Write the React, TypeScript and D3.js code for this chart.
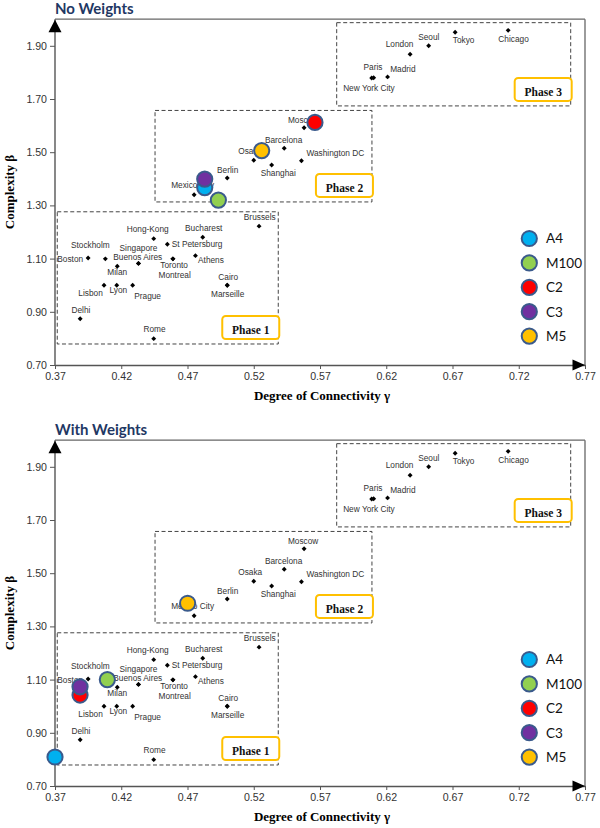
import React, { useEffect, useRef } from "react";
import * as d3 from "d3";

// city positions (degree of connectivity gamma, complexity beta)
const cityNames = [
  "Boston", "Stockholm", "Milan", "Singapore", "Buenos Aires", "Toronto", "Montreal",
  "Athens", "Hong-Kong", "St Petersburg", "Bucharest", "Brussels", "Lisbon", "Lyon",
  "Prague", "Cairo", "Marseille", "Delhi", "Rome",
  "Moscow", "Barcelona", "Osaka", "Shanghai", "Washington DC", "Berlin", "Mexico City",
  "Tokyo", "Chicago", "Seoul", "London", "Madrid", "Paris", "New York City",
];
const cityGamma = [
  0.395, 0.408, 0.417, 0.433, 0.433, 0.459, 0.459,
  0.476, 0.4445, 0.4548, 0.4815, 0.524, 0.407, 0.4166,
  0.4286, 0.5, 0.5, 0.389, 0.4445,
  0.558, 0.543, 0.52, 0.5335, 0.556, 0.5, 0.475,
  0.672, 0.712, 0.652, 0.638, 0.621, 0.609, 0.6105,
];
const cityBeta = [
  1.102, 1.099, 1.071, 1.082, 1.082, 1.099, 1.099,
  1.111, 1.175, 1.154, 1.18, 1.222, 1.0, 1.0,
  1.0, 1.0, 1.0, 0.874, 0.799,
  1.592, 1.515, 1.47, 1.452, 1.468, 1.403, 1.34,
  1.951, 1.958, 1.9, 1.868, 1.783, 1.779, 1.78,
];

// method markers
const methodNames = ["A4", "M100", "C2", "C3", "M5"];
const methodColors = ["#00B0F0", "#92D050", "#FF0000", "#7030A0", "#FFC000"];
const noWeightsGamma = [0.483, 0.4933, 0.5662, 0.483, 0.526];
const noWeightsBeta = [1.367, 1.32, 1.612, 1.399, 1.506];
const withWeightsGamma = [0.37, 0.4095, 0.3889, 0.3889, 0.4701];
const withWeightsBeta = [0.809, 1.1, 1.042, 1.073, 1.387];

// phase regions [gamma0, gamma1, beta0, beta1]
const phaseNames = ["Phase 1", "Phase 2", "Phase 3"];
const phaseBounds = [
  [0.3717, 0.5385, 0.779, 1.276],
  [0.4455, 0.6092, 1.313, 1.657],
  [0.5826, 0.7592, 1.674, 1.987],
];

const xTicks = [0.37, 0.42, 0.47, 0.52, 0.57, 0.62, 0.67, 0.72, 0.77];
const yTicks = [0.7, 0.9, 1.1, 1.3, 1.5, 1.7, 1.9];

// label placement relative to the dot: dx, dy, anchor
const labelPlacement: Record<string, [number, number, string]> = {
  "Boston": [-5, 4, "end"],
  "Stockholm": [-15, -10.5, "middle"],
  "Milan": [0, 9, "middle"],
  "Singapore": [0, -12.3, "middle"],
  "Buenos Aires": [-0.7, -3.2, "middle"],
  "Toronto": [1.2, 9.6, "middle"],
  "Montreal": [1.7, 18.8, "middle"],
  "Athens": [2.6, 7.3, "start"],
  "Hong-Kong": [-6, -6.5, "middle"],
  "St Petersburg": [4.4, 3, "start"],
  "Bucharest": [1, -6.3, "middle"],
  "Brussels": [0.7, -6.5, "middle"],
  "Lisbon": [-13.5, 10.7, "middle"],
  "Lyon": [1.6, 8.2, "middle"],
  "Prague": [1.6, 13.7, "start"],
  "Cairo": [1, -5.3, "middle"],
  "Marseille": [0.4, 12.2, "middle"],
  "Delhi": [0.8, -5.7, "middle"],
  "Rome": [0.8, -6.7, "middle"],
  "Moscow": [-1, -5.2, "middle"],
  "Barcelona": [-0.6, -4.8, "middle"],
  "Osaka": [-3.5, -5.8, "middle"],
  "Shanghai": [6.6, 11, "middle"],
  "Washington DC": [5, -4.7, "start"],
  "Berlin": [0.4, -5.5, "middle"],
  "Mexico City": [-1.5, -6.4, "middle"],
  "Tokyo": [8.5, 10.7, "middle"],
  "Chicago": [5.4, 11.7, "middle"],
  "Seoul": [0.2, -6.2, "middle"],
  "London": [-10.5, -7.3, "middle"],
  "Madrid": [15.3, -5, "middle"],
  "Paris": [1.3, -7.5, "middle"],
  "New York City": [-4.7, 13.3, "middle"],
};

const SANS = "'Liberation Sans', Arial, sans-serif";
const SERIF = "'Liberation Serif', 'Times New Roman', serif";
const TITLE_FONT = "Lato, 'Open Sans', sans-serif";

function drawPanel(root: any, offsetY: number, title: string, mGamma: number[], mBeta: number[]) {
  const x = d3.scaleLinear().domain([0.37, 0.77]).range([55, 585]);
  const y = d3.scaleLinear().domain([0.7, 2.0]).range([365, 19.2]);
  const g = root.append("g").attr("transform", `translate(0,${offsetY})`);

  // title
  g.append("text")
    .attr("x", 55)
    .attr("y", 14)
    .style("font-family", TITLE_FONT)
    .style("font-weight", "bold")
    .style("font-size", "15px")
    .attr("fill", "#1F3864")
    .text(title);

  // frame: top and right
  g.append("line").attr("x1", 55).attr("x2", 585).attr("y1", y(2.0)).attr("y2", y(2.0))
    .attr("stroke", "#666").attr("stroke-width", 1.3);
  g.append("line").attr("x1", 585).attr("x2", 585).attr("y1", y(2.0)).attr("y2", y(0.7))
    .attr("stroke", "#666").attr("stroke-width", 1.3);

  // axes
  const xAxis = g.append("g")
    .attr("transform", `translate(0,${y(0.7)})`)
    .call(d3.axisBottom(x).tickValues(xTicks).tickFormat(d3.format(".2f")).tickSize(4).tickSizeOuter(0).tickPadding(3));
  const yAxis = g.append("g")
    .attr("transform", `translate(${x(0.37)},0)`)
    .call(d3.axisLeft(y).tickValues(yTicks).tickFormat(d3.format(".2f")).tickSize(5).tickSizeOuter(0).tickPadding(3));
  [xAxis, yAxis].forEach((a) => {
    a.select(".domain").attr("stroke", "#555").attr("stroke-width", 1.4);
    a.selectAll(".tick line").attr("stroke", "#555");
    a.selectAll(".tick text")
      .style("font-family", SANS)
      .style("font-size", "10.6px")
      .attr("fill", "#333");
  });
  yAxis.select(".domain").attr("d", `M0,${y(0.7)}V${y(2.0)}`);

  // arrow heads
  g.append("path")
    .attr("d", `M${x(0.37)},${y(2.0) + 0.5}L${x(0.37) - 6.5},${y(2.0) + 13}L${x(0.37) + 6.5},${y(2.0) + 13}Z`)
    .attr("fill", "#000");
  g.append("path")
    .attr("d", `M${x(0.77)},${y(0.7)}L${x(0.77) - 12.5},${y(0.7) - 5.5}L${x(0.77) - 12.5},${y(0.7) + 5.5}Z`)
    .attr("fill", "#000");

  // axis titles
  g.append("text")
    .attr("x", 322)
    .attr("y", 400)
    .attr("text-anchor", "middle")
    .style("font-family", SERIF)
    .style("font-weight", "bold")
    .style("font-size", "13px")
    .text("Degree of Connectivity γ");
  g.append("text")
    .attr("transform", "translate(14,192) rotate(-90)")
    .attr("text-anchor", "middle")
    .style("font-family", SERIF)
    .style("font-weight", "bold")
    .style("font-size", "13px")
    .text("Complexity β");

  // phase regions
  phaseBounds.forEach((b, i) => {
    const x0 = x(b[0]), x1 = x(b[1]), y0 = y(b[2]), y1 = y(b[3]);
    g.append("rect")
      .attr("x", x0).attr("y", y1).attr("width", x1 - x0).attr("height", y0 - y1)
      .attr("fill", "none")
      .attr("stroke", "#444")
      .attr("stroke-width", 1)
      .attr("stroke-dasharray", "4,2.5");
    g.append("rect")
      .attr("x", x1 - 56).attr("y", y0 - 28).attr("width", 57).attr("height", 23)
      .attr("rx", 3.5)
      .attr("fill", "#fff")
      .attr("stroke", "#FFC000")
      .attr("stroke-width", 2);
    g.append("text")
      .attr("x", x1 - 27.5).attr("y", y0 - 9.5)
      .attr("text-anchor", "middle")
      .style("font-family", SERIF)
      .style("font-weight", "bold")
      .style("font-size", "11.5px")
      .attr("fill", "#111")
      .text(phaseNames[i]);
  });

  // cities
  const diamond = d3.symbol().type(d3.symbolSquare).size(12);
  cityNames.forEach((name, i) => {
    const cx = x(cityGamma[i]), cy = y(cityBeta[i]);
    g.append("path")
      .attr("d", diamond() as string)
      .attr("transform", `translate(${cx},${cy}) rotate(45)`)
      .attr("fill", "#000");
    const [dx, dy, anchor] = labelPlacement[name];
    g.append("text")
      .attr("x", cx + dx)
      .attr("y", cy + dy)
      .attr("text-anchor", anchor)
      .style("font-family", SANS)
      .style("font-size", "8.3px")
      .attr("fill", "#333")
      .text(name);
  });

  // method markers
  methodNames.forEach((m, i) => {
    g.append("circle")
      .attr("cx", x(mGamma[i]))
      .attr("cy", y(mBeta[i]))
      .attr("r", 7.6)
      .attr("fill", methodColors[i])
      .attr("stroke", "#3A5A8C")
      .attr("stroke-width", 2);
  });

  // legend
  methodNames.forEach((m, i) => {
    const ly = 238.5 + i * 24.4;
    g.append("circle")
      .attr("cx", 529.3).attr("cy", ly).attr("r", 7.6)
      .attr("fill", methodColors[i])
      .attr("stroke", "#3A5A8C")
      .attr("stroke-width", 2);
    g.append("text")
      .attr("x", 546).attr("y", ly + 4.8)
      .style("font-family", TITLE_FONT)
      .style("font-size", "13.5px")
      .attr("fill", "#111")
      .text(m);
  });
}

export default function App() {
  const svgRef = useRef<SVGSVGElement | null>(null);

  useEffect(() => {
    const svg = d3.select(svgRef.current);
    svg.selectAll("*").remove();
    drawPanel(svg, 0, "No Weights", noWeightsGamma, noWeightsBeta);
    drawPanel(svg, 421, "With Weights", withWeightsGamma, withWeightsBeta);
  }, []);

  return (
    <svg
      ref={svgRef}
      width={600}
      height={828}
      style={{ position: "absolute", left: 0, top: 0, background: "#fff" }}
    />
  );
}
